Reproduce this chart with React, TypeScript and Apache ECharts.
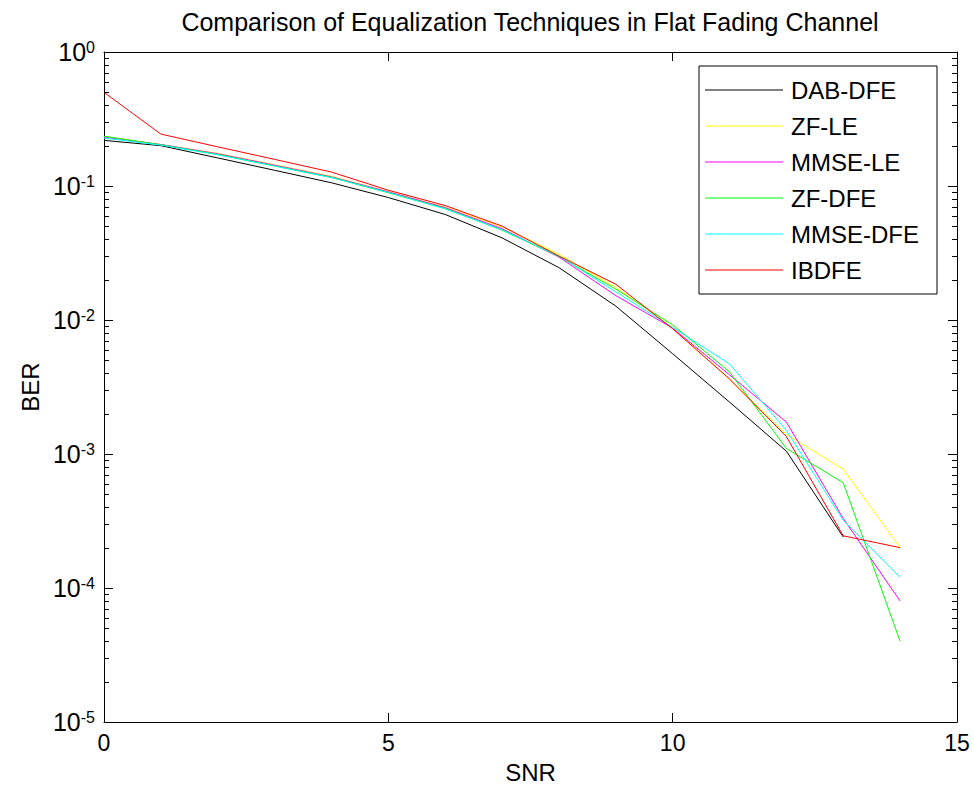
import React, { useEffect, useRef } from "react";
import * as echarts from "echarts";

const FONT = "'Liberation Sans', Arial, Helvetica, sans-serif";

const snr = [0, 1, 2, 3, 4, 5, 6, 7, 8, 9, 10, 11, 12, 13, 14];
const seriesNames = ["DAB-DFE", "ZF-LE", "MMSE-LE", "ZF-DFE", "MMSE-DFE", "IBDFE"];
const seriesColors = ["#000000", "#ffff00", "#ff00ff", "#00ff00", "#00ffff", "#ff0000"];

const dabDfe = [0.219, 0.2, 0.162, 0.131, 0.1057, 0.082, 0.0613, 0.041, 0.0246, 0.0127, 0.0056, 0.00244, 0.00105, 0.00024, null];
const zfLe = [0.234, 0.204, 0.175, 0.144, 0.118, 0.091, 0.0695, 0.0495, 0.031, 0.0175, 0.0088, 0.0036, 0.0014, 0.00077, 0.0002];
const mmseLe = [0.232, 0.204, 0.174, 0.143, 0.117, 0.0905, 0.069, 0.048, 0.0295, 0.0152, 0.0087, 0.0039, 0.00173, 0.00033, 0.00008];
const zfDfe = [0.235, 0.203, 0.172, 0.141, 0.116, 0.089, 0.068, 0.0468, 0.0298, 0.017, 0.0092, 0.0041, 0.0011, 0.00061, 0.00004];
const mmseDfe = [0.228, 0.202, 0.171, 0.141, 0.1155, 0.0895, 0.0675, 0.047, 0.03, 0.0162, 0.0088, 0.0047, 0.0015, 0.00032, 0.00012];
const ibdfe = [0.5, 0.244, 0.196, 0.158, 0.127, 0.093, 0.0715, 0.0502, 0.03, 0.0185, 0.0086, 0.00363, 0.00135, 0.000245, 0.0002];

const seriesValues = [dabDfe, zfLe, mmseLe, zfDfe, mmseDfe, ibdfe];

const xMin = 0;
const xMax = 15;
const xInterval = 5;
const yMin = 1e-5;
const yMax = 1;

const minorTickValues: number[] = [];
for (let e = -5; e < 0; e++) {
  for (let k = 2; k <= 9; k++) minorTickValues.push(k * Math.pow(10, e));
}

const titleText = "Comparison of Equalization Techniques in Flat Fading Channel";

export default function App() {
  const ref = useRef<HTMLDivElement>(null);
  useEffect(() => {
    if (!ref.current) return;
    const chart = echarts.init(ref.current, undefined, { renderer: "svg" });
    const axisLineStyle = { color: "#000", width: 1 };
    const lineSeries = seriesNames.map((name, i) => ({
      name,
      type: "line",
      xAxisIndex: 0,
      yAxisIndex: 0,
      symbol: "none",
      showSymbol: false,
      connectNulls: false,
      lineStyle: { color: seriesColors[i], width: 1 },
      itemStyle: { color: seriesColors[i] },
      data: snr.map((x, j) => [x, seriesValues[i][j]]),
    }));
    const titleGraphic = {
      id: "title",
      type: "text",
      x: 530,
      y: 22,
      style: {
        text: titleText,
        fill: "#000",
        fontSize: 25,
        fontFamily: FONT,
        align: "center",
        verticalAlign: "middle",
        textAlign: "center",
        textVerticalAlign: "middle",
      },
    };
    chart.setOption({
      animation: false,
      backgroundColor: "#fff",
      graphic: [titleGraphic],
      grid: { left: 104, right: 17, top: 52, bottom: 65, containLabel: false },
      legend: {
        data: seriesNames,
        orient: "vertical",
        right: 37,
        top: 66,
        icon: "rect",
        itemWidth: 78,
        itemHeight: 1,
        itemGap: 12,
        padding: [12, 18, 12, 6],
        borderColor: "#000",
        borderWidth: 1,
        backgroundColor: "#fff",
        textStyle: { fontSize: 24, color: "#000", fontFamily: FONT, lineHeight: 24, padding: [0, 0, 0, 3] },
      },
      xAxis: [
        {
          type: "value",
          position: "bottom",
          min: xMin,
          max: xMax,
          interval: xInterval,
          name: "SNR",
          nameLocation: "middle",
          nameGap: 38,
          nameTextStyle: { fontSize: 24, color: "#000", fontFamily: FONT },
          axisLine: { show: true, onZero: false, lineStyle: axisLineStyle },
          axisTick: { show: true, inside: true, length: 9, lineStyle: axisLineStyle },
          axisLabel: { fontSize: 23, color: "#000", fontFamily: FONT, margin: 9 },
          splitLine: { show: false },
        },
        {
          type: "value",
          position: "top",
          min: xMin,
          max: xMax,
          interval: xInterval,
          axisLine: { show: true, onZero: false, lineStyle: axisLineStyle },
          axisTick: { show: true, inside: true, length: 9, lineStyle: axisLineStyle },
          axisLabel: { show: false },
          splitLine: { show: false },
        },
      ],
      yAxis: [
        {
          type: "log",
          logBase: 10,
          position: "left",
          min: yMin,
          max: yMax,
          name: "BER",
          nameLocation: "middle",
          nameGap: 62,
          nameTextStyle: { fontSize: 24, color: "#000", fontFamily: FONT },
          axisLine: { show: true, onZero: false, lineStyle: axisLineStyle },
          axisTick: { show: true, inside: true, length: 9, lineStyle: axisLineStyle },
          axisLabel: {
            margin: 9,
            color: "#000",
            fontFamily: FONT,
            formatter: (v: number) => {
              const e = Math.round(Math.log10(v));
              return `{b|10}{e|${e}}`;
            },
            rich: {
              b: { fontSize: 25, lineHeight: 25, padding: [12, 0, 12, 0], color: "#000", fontFamily: FONT, verticalAlign: "middle" },
              e: { fontSize: 16, lineHeight: 16, verticalAlign: "top", color: "#000", fontFamily: FONT },
            },
          },
          splitLine: { show: false },
        },
        {
          type: "log",
          logBase: 10,
          position: "right",
          min: yMin,
          max: yMax,
          axisLine: { show: true, onZero: false, lineStyle: axisLineStyle },
          axisTick: { show: true, inside: true, length: 9, lineStyle: axisLineStyle },
          axisLabel: { show: false },
          splitLine: { show: false },
        },
      ],
      series: lineSeries,
    });

    // minor ticks at 2..9 × 10^n on both vertical axes, placed via the axis scales
    const xl = chart.convertToPixel({ xAxisIndex: 0 }, xMin) as number;
    const xr = chart.convertToPixel({ xAxisIndex: 0 }, xMax) as number;
    const tickGraphics: any[] = [];
    minorTickValues.forEach((v, i) => {
      const y = chart.convertToPixel({ yAxisIndex: 0 }, v) as number;
      if (y == null || isNaN(y)) return;
      const yy = Math.round(y) + 0.5;
      tickGraphics.push({
        id: "ml" + i,
        type: "line",
        silent: true,
        z: 100,
        shape: { x1: xl, y1: yy, x2: xl + 5, y2: yy },
        style: { stroke: "#000", lineWidth: 1 },
      });
      tickGraphics.push({
        id: "mr" + i,
        type: "line",
        silent: true,
        z: 100,
        shape: { x1: xr, y1: yy, x2: xr - 5, y2: yy },
        style: { stroke: "#000", lineWidth: 1 },
      });
    });
    chart.setOption({ graphic: [titleGraphic, ...tickGraphics] });
    return () => chart.dispose();
  }, []);
  return <div ref={ref} style={{ position: "absolute", left: 0, top: 0, width: 974, height: 789 }} />;
}
